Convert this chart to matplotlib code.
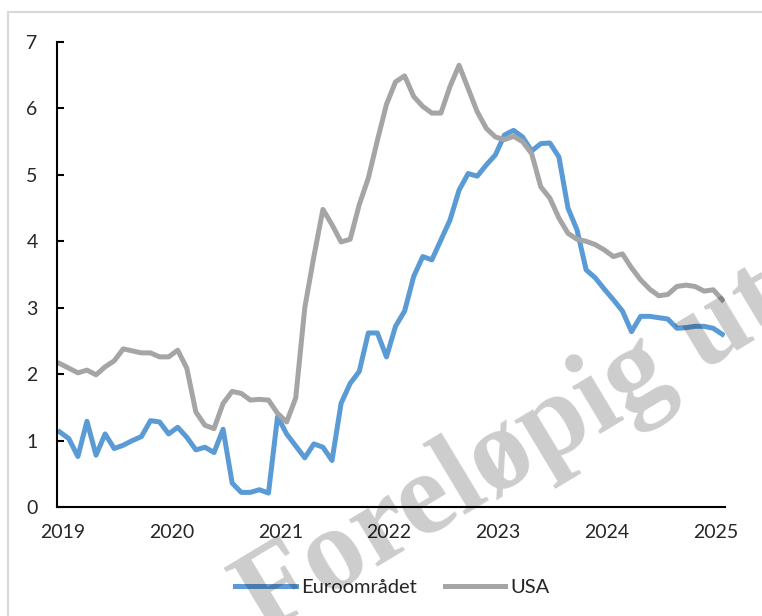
import matplotlib
matplotlib.use("Agg")
import matplotlib.pyplot as plt
from matplotlib.patches import Rectangle

# Monthly data, Jan 2019 - Feb 2025
years = ["2019", "2020", "2021", "2022", "2023", "2024", "2025"]
euro = [1.13, 1.03, 0.76, 1.29, 0.78, 1.10, 0.88, 0.93, 1.00, 1.06, 1.30, 1.28,
        1.10, 1.20, 1.05, 0.86, 0.90, 0.82, 1.17, 0.36, 0.22, 0.22, 0.26, 0.21,
        1.36, 1.10, 0.92, 0.74, 0.95, 0.90, 0.70, 1.56, 1.86, 2.04, 2.62, 2.62,
        2.26, 2.72, 2.95, 3.47, 3.77, 3.72, 4.02, 4.32, 4.77, 5.02, 4.98, 5.15,
        5.30, 5.60, 5.67, 5.57, 5.36, 5.47, 5.48, 5.27, 4.50, 4.17, 3.57, 3.45,
        3.28, 3.12, 2.95, 2.64, 2.87, 2.87, 2.85, 2.83, 2.69, 2.70, 2.72, 2.72,
        2.69, 2.60]
usa = [2.16, 2.09, 2.02, 2.06, 1.99, 2.11, 2.20, 2.38, 2.35, 2.32, 2.32, 2.26,
       2.26, 2.36, 2.09, 1.43, 1.23, 1.18, 1.56, 1.74, 1.71, 1.61, 1.62, 1.61,
       1.41, 1.28, 1.64, 3.00, 3.77, 4.48, 4.25, 3.99, 4.03, 4.55, 4.95, 5.52,
       6.06, 6.40, 6.49, 6.18, 6.03, 5.93, 5.93, 6.33, 6.65, 6.30, 5.95, 5.70,
       5.57, 5.53, 5.58, 5.50, 5.32, 4.82, 4.65, 4.35, 4.12, 4.03, 4.00, 3.95,
       3.87, 3.77, 3.81, 3.60, 3.42, 3.28, 3.18, 3.20, 3.32, 3.34, 3.32, 3.25,
       3.27, 3.12]
labels = ["Euroområdet", "USA"]

FONT = ["Lato", "DejaVu Sans"]
plt.rcParams["font.family"] = FONT

fig = plt.figure(figsize=(7.62, 6.16), dpi=100)
ax = fig.add_axes([57 / 762, 1 - 507 / 616, 668 / 762, 465 / 616])

x = list(range(len(euro)))
ax.plot(x, euro, color="#5B9BD5", lw=3.6, label=labels[0], solid_joinstyle="round")
ax.plot(x, usa, color="#A5A5A5", lw=3.6, label=labels[1], solid_joinstyle="round")

ax.set_xlim(-0.3, 73.3)
ax.set_ylim(0, 7)
ax.set_yticks(range(0, 8))
ax.set_xticks([12 * i + 0.3 for i in range(len(years))])
ax.set_xticklabels(years)

for s in ["top", "right"]:
    ax.spines[s].set_visible(False)
for s in ["left", "bottom"]:
    ax.spines[s].set_linewidth(1.5)
    ax.spines[s].set_color("black")

ax.tick_params(axis="y", direction="in", length=5, width=1.5, pad=14,
               labelsize=14, colors="black", labelcolor="#262626")
ax.tick_params(axis="x", length=0, pad=12, labelsize=14, labelcolor="#262626")

leg = ax.legend(loc="upper center", bbox_to_anchor=(0.502, -0.115), ncol=2,
                frameon=False, fontsize=14.5, handlelength=3.0, handletextpad=0.25,
                columnspacing=1.4)
for t in leg.get_texts():
    t.set_color("#262626")

# outer chart frame
fig.patches.append(Rectangle((8 / 762, -0.2), 1.5, 1 - 12 / 616 + 0.2,
                             transform=fig.transFigure, fill=False,
                             edgecolor="#d9d9d9", lw=1.5, zorder=0))

# watermark
fig.text(263 / 762, 1 - 636 / 616, "Foreløpig utgave", rotation=31,
         rotation_mode="anchor", ha="left", va="baseline",
         fontsize=85, fontweight="bold",
         family=["Liberation Serif", "DejaVu Serif"],
         color="black", alpha=0.2, zorder=10)

fig.savefig("out.png", dpi=100)
